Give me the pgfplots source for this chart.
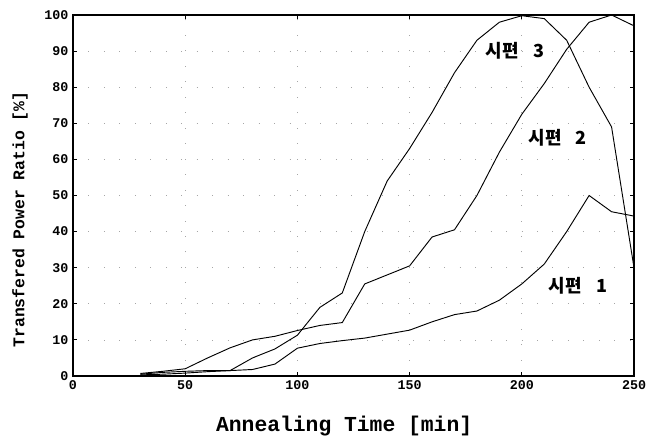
\documentclass[border=0pt]{standalone}
\usepackage{fontspec}
\setmainfont{Liberation Mono}
\newfontfamily\kr{Noto Sans CJK KR}
\usepackage{pgfplots}
\pgfplotsset{compat=1.18}
\begin{document}
\begin{tikzpicture}
\begin{axis}[
  name=ax,
  scale only axis,
  width=420.75pt, height=270.75pt,
  xmin=0, xmax=250, ymin=0, ymax=100,
  xtick={0,50,...,250}, ytick={0,10,...,100},
  tick align=inside,
  tick style={black, line width=0.6pt},
  major tick length=3pt,
  axis line style={line width=0.9pt},
  /pgf/number format/assume math mode=true,
  ticklabel style={font=\bfseries\fontsize{10}{12}\selectfont},
  grid=major,
  major grid style={black!35, line width=0.5pt, dash pattern=on 0.6pt off 11pt},
  xlabel={\bfseries\fontsize{16}{18}\selectfont Annealing Time [min]},
  ylabel={\bfseries\fontsize{12.3}{14}\selectfont Transfered Power Ratio [\%]},
  xlabel style={at={(axis description cs:0.5,0)}, anchor=center, yshift=-37.5pt, xshift=-7pt},
  ylabel style={at={(axis description cs:0,0.5)}, anchor=center, yshift=39.75pt, xshift=-18pt},
  clip=false,
]
\addplot[black, line width=0.7pt] coordinates {
(30,0.3)(40,0.5)(50,0.8)(60,1.2)(70,1.5)(80,1.8)(90,3.3)(100,7.7)(110,9)(120,9.8)(130,10.5)(140,11.6)(150,12.7)(160,15)(170,17)(180,18)(190,21)(200,25.5)(210,31)(220,40)(230,50)(240,45.5)(250,44.3)};
\addplot[black, line width=0.7pt] coordinates {
(30,0.7)(40,1.3)(50,2)(60,5)(70,7.8)(80,10)(90,11)(100,12.6)(110,14)(120,14.8)(130,25.5)(140,28)(150,30.5)(160,38.5)(170,40.5)(180,50)(190,62)(200,72.5)(210,81)(220,90.5)(230,98)(240,100)(250,97)};
\addplot[black, line width=0.7pt] coordinates {
(30,0.5)(40,1)(50,1.3)(60,1.5)(70,1.5)(80,5)(90,7.5)(100,11.3)(110,19)(120,23)(130,40)(140,54)(150,63)(160,73)(170,84)(180,93)(190,98)(200,99.8)(210,99)(220,93)(230,80)(240,69)(250,30)};
\node[font=\kr\bfseries\fontsize{13.5}{15}\selectfont] at (axis cs:197,90) {시편\hspace{0.8em}3};
\node[font=\kr\bfseries\fontsize{13.5}{15}\selectfont] at (axis cs:216,66) {시편\hspace{0.8em}2};
\node[font=\kr\bfseries\fontsize{13.5}{15}\selectfont] at (axis cs:225,25) {시편\hspace{0.8em}1};
\end{axis}
\pgfresetboundingbox
\path[use as bounding box] ([shift={(-54.75pt,-48.75pt)}]ax.south west) rectangle ([shift={(16.5pt,11.25pt)}]ax.north east);
\end{tikzpicture}
\end{document}
